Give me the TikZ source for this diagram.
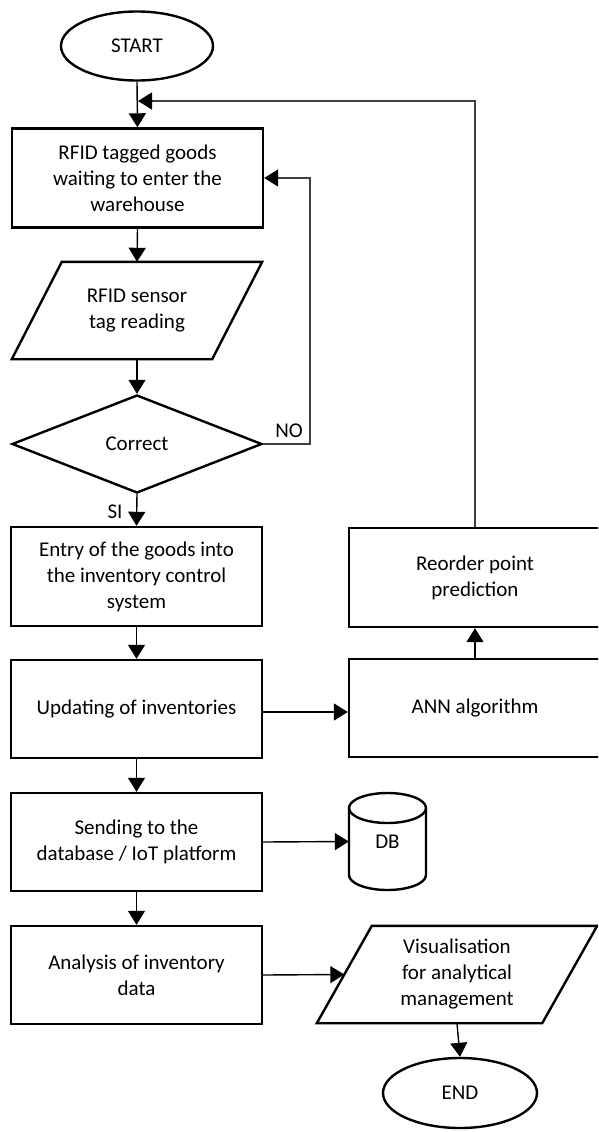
\documentclass[tikz,border=0pt]{standalone}
\usepackage{fontspec}
\setmainfont{Carlito}
\usetikzlibrary{shapes.geometric,arrows.meta,calc}
\begin{document}
\begin{tikzpicture}[x=1pt,y=-1pt,
  every node/.style={font=\fontsize{21}{26}\selectfont, text=black},
  shp/.style={draw=black, line width=2.4pt},
  procbox/.style={shp, rectangle, align=center, inner sep=0pt, minimum width=251pt, minimum height=99pt},
  rbox/.style={shp, rectangle, align=center, inner sep=0pt, minimum width=252pt, minimum height=99pt},
  txtbox/.style={rectangle, align=center, inner sep=0pt},
  term/.style={shp, ellipse, inner sep=0pt, minimum width=152pt, minimum height=69pt},
  conn/.style={draw=black, line width=1.4pt},
  arr/.style={conn, -{Triangle[length=14pt,width=17pt]}},
  fb/.style={draw=black!75, line width=1.4pt},
  fbarr/.style={fb, -{Triangle[length=14pt,width=17pt,black]}},
  lbl/.style={inner sep=0pt}
]
\clip (0,0) rectangle (598,1132);

% left column
\node[term] (start) at (137,46) {START};
\node[procbox] (b1) at (137.5,178) {RFID tagged goods\\waiting to enter the\\warehouse};
\node[txtbox, minimum width=200pt, minimum height=97pt] (p1) at (137,310.5) {RFID sensor\\tag reading};
\draw[shp] ($(p1.north west)+(25,0)$) -- ($(p1.north east)+(25,0)$) -- ($(p1.south east)+(-25,0)$) -- ($(p1.south west)+(-25,0)$) -- cycle;
\node[shp, diamond, inner sep=0pt, minimum width=250pt, minimum height=98pt] (dec) at (137,444) {Correct};
\node[procbox] (b2) at (136.5,576.5) {Entry of the goods into\\the inventory control\\system};
\node[procbox, minimum height=98pt] (b3) at (136.5,709) {Updating of inventories};
\node[procbox, minimum height=98pt] (b4) at (136.5,842) {Sending to the\\database / IoT platform};
\node[procbox, minimum height=98pt] (b5) at (136.5,975) {Analysis of inventory\\data};

% right column
\node[rbox] (reo) at (475,577.5) {Reorder point\\prediction};
\node[rbox, minimum height=98pt] (ann) at (475,708) {ANN algorithm};
\node[txtbox, minimum width=77pt, minimum height=97pt] (db) at (387.5,841.5) {DB};
\draw[shp] (349,808) -- (349,875) arc[start angle=180, end angle=0, x radius=38.5, y radius=15] -- (426,808);
\draw[shp] (387.5,808) ellipse[x radius=38.5, y radius=15];
\node[txtbox, minimum width=225pt, minimum height=97pt] (p2) at (457,974.5) {Visualisation\\for analytical\\management};
\draw[shp] ($(p2.north west)+(27.5,0)$) -- ($(p2.north east)+(27.5,0)$) -- ($(p2.south east)+(-27.5,0)$) -- ($(p2.south west)+(-27.5,0)$) -- cycle;
\node[term, minimum width=154pt, minimum height=70pt] (end) at (460,1093) {END};

% labels
\node[lbl] (no) at (289,431) {NO};
\node[lbl] (si) at (115,512) {SI};

% main connectors
\draw[arr] (start.south) -- (b1.north);
\draw[arr] (b1.south) -- (p1.north);
\draw[arr] (p1.south) -- (dec.north);
\draw[arr] (dec.south) -- (b2.north);
\draw[arr] (b2.south) -- (b3.north);
\draw[arr] (b3.south) -- (b4.north);
\draw[arr] (b4.south) -- (b5.north);
\draw[arr] (b3.east |- 0,712) -- (ann.west |- 0,712);
\draw[arr] (ann.north) -- (reo.south);
\draw[arr] (b4.east) -- (db.west);
\draw[arr] (b5.east) -- (p2.west);
\draw[arr] (p2.south) -- (end.north);

% feedback loops
\coordinate (fbin) at (138,101);
\draw[fbarr] (reo.north) |- (fbin);
\coordinate (noc) at (310,444);
\draw[fbarr] (dec.east) -- (noc) |- (b1.east);
\end{tikzpicture}
\end{document}
